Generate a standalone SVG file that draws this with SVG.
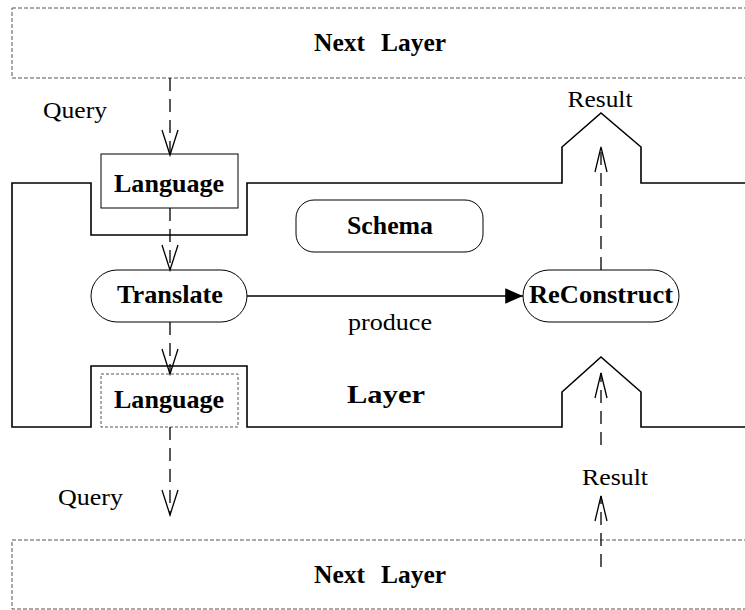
<svg xmlns="http://www.w3.org/2000/svg" width="745" height="610" viewBox="0 0 745 610">
  <style>
    .bold { font-family: "Liberation Serif", "Times New Roman", serif; font-weight: bold; font-size: 26px; fill: #000; }
    .reg { font-family: "Liberation Serif", "Times New Roman", serif; font-size: 23px; fill: #000; }
    .outer { fill: none; stroke: #555; stroke-width: 1; stroke-dasharray: 4 2; }
    .layer { fill: none; stroke: #000; stroke-width: 1.6; }
    .pill { fill: #fff; stroke: #000; stroke-width: 1; }
    .flow { fill: none; stroke: #000; stroke-width: 1.3; stroke-dasharray: 13 8; }
    .solid { fill: none; stroke: #000; stroke-width: 1.3; }
  </style>
  <defs>
    <marker id="openV" markerUnits="userSpaceOnUse" markerWidth="30" markerHeight="20" viewBox="-26 -10 28 20" refX="0" refY="0" orient="auto">
      <path d="M -25 -8 L 0 0 L -25 8" fill="none" stroke="#000" stroke-width="1.3"/>
    </marker>
    <marker id="openVnarrow" markerUnits="userSpaceOnUse" markerWidth="30" markerHeight="20" viewBox="-26 -10 28 20" refX="0" refY="0" orient="auto">
      <path d="M -25 -6 L 0 0 L -25 6" fill="none" stroke="#000" stroke-width="1.3"/>
    </marker>
    <marker id="solidHead" markerUnits="userSpaceOnUse" markerWidth="20" markerHeight="20" viewBox="-17 -9 18 18" refX="0" refY="0" orient="auto">
      <path d="M -16 -7 L 0 0 L -16 7 Z" fill="#000"/>
    </marker>
  </defs>

  <!-- upper neighbouring layer -->
  <g id="next-layer-top">
    <rect class="outer" x="12" y="8" width="750" height="70"/>
    <text class="bold" x="314" y="51" textLength="51" lengthAdjust="spacingAndGlyphs">Next</text>
    <text class="bold" x="381" y="51" textLength="65" lengthAdjust="spacingAndGlyphs">Layer</text>
  </g>

  <!-- the layer outline with its ports -->
  <g id="layer">
    <path class="layer" d="M 745 183 H 641 V 147 L 601 113 L 562 147 V 183 H 247 V 235 H 91 V 183 H 12 V 427 H 91 V 366 H 247 V 427 H 562 V 392 L 601 357 L 641 392 V 427 H 745"/>
    <text class="bold" x="386" y="403" text-anchor="middle" font-size="29" textLength="78" lengthAdjust="spacingAndGlyphs">Layer</text>
  </g>

  <g id="language-in">
    <rect x="101" y="154" width="137" height="54" fill="#fff" stroke="#000" stroke-width="1"/>
    <text class="bold" x="169" y="192" text-anchor="middle" textLength="110" lengthAdjust="spacingAndGlyphs">Language</text>
  </g>

  <g id="schema">
    <rect class="pill" x="296" y="200" width="187" height="52" rx="18"/>
    <text class="bold" x="390" y="234" text-anchor="middle" textLength="86" lengthAdjust="spacingAndGlyphs">Schema</text>
  </g>

  <g id="translate">
    <rect class="pill" x="91" y="270" width="156" height="52" rx="26"/>
    <text class="bold" x="170" y="303" text-anchor="middle" textLength="106" lengthAdjust="spacingAndGlyphs">Translate</text>
  </g>

  <g id="reconstruct">
    <rect class="pill" x="523" y="270" width="156" height="52" rx="26"/>
    <text class="bold" x="601" y="303" text-anchor="middle" textLength="144" lengthAdjust="spacingAndGlyphs">ReConstruct</text>
  </g>

  <g id="language-out">
    <rect x="101" y="374" width="137" height="53" fill="#fff" stroke="#555" stroke-width="1" stroke-dasharray="3 2"/>
    <text class="bold" x="169" y="408" text-anchor="middle" textLength="110" lengthAdjust="spacingAndGlyphs">Language</text>
  </g>

  <!-- lower neighbouring layer -->
  <g id="next-layer-bottom">
    <rect class="outer" x="12" y="540" width="750" height="69"/>
    <text class="bold" x="314" y="583" textLength="51" lengthAdjust="spacingAndGlyphs">Next</text>
    <text class="bold" x="381" y="583" textLength="65" lengthAdjust="spacingAndGlyphs">Layer</text>
  </g>

  <!-- connectors -->
  <g id="connectors">
    <path class="flow" d="M 170 78 V 155" marker-end="url(#openV)"/>
    <path class="flow" d="M 170 208 V 270" marker-end="url(#openV)"/>
    <path class="flow" d="M 170 322 V 374" marker-end="url(#openV)"/>
    <path class="flow" d="M 170 427 V 515" marker-end="url(#openV)"/>
    <path class="solid" d="M 247 296 H 523" marker-end="url(#solidHead)"/>
    <path class="flow" d="M 601 270 V 147" marker-end="url(#openVnarrow)"/>
    <path class="flow" d="M 601 445 V 373" marker-end="url(#openVnarrow)"/>
    <path class="flow" d="M 601 567 V 496" marker-end="url(#openVnarrow)"/>
  </g>

  <!-- connector labels -->
  <g id="labels">
    <text class="reg" x="43" y="118" textLength="64" lengthAdjust="spacingAndGlyphs">Query</text>
    <text class="reg" x="600" y="107" text-anchor="middle" textLength="65" lengthAdjust="spacingAndGlyphs">Result</text>
    <text class="reg" x="390" y="330" text-anchor="middle" textLength="84" lengthAdjust="spacingAndGlyphs">produce</text>
    <text class="reg" x="58" y="505" textLength="65" lengthAdjust="spacingAndGlyphs">Query</text>
    <text class="reg" x="615" y="485" text-anchor="middle" textLength="66" lengthAdjust="spacingAndGlyphs">Result</text>
  </g>
</svg>
